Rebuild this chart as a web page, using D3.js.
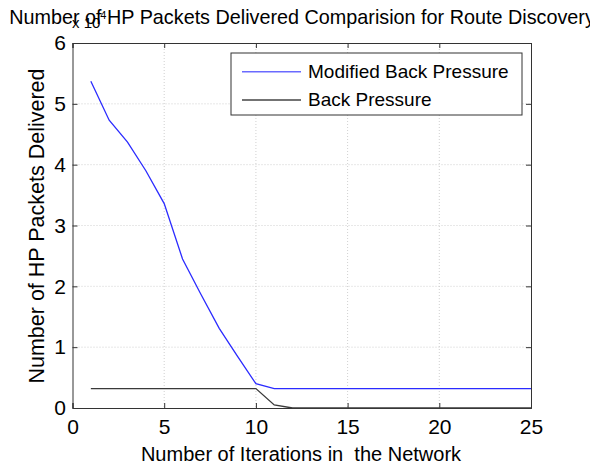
<!DOCTYPE html>
<html><head><meta charset="utf-8">
<script src="https://cdn.jsdelivr.net/npm/d3@7"></script>
<style>body{margin:0;background:#fff}svg{display:block}text{font-family:"Liberation Sans",Arial,sans-serif;fill:#000}</style>
</head><body><svg id="c" width="590" height="466"></svg>
<script>
const iterations = d3.range(1, 26);
const modifiedBP = [5.37,4.73,4.37,3.90,3.36,2.45,1.87,1.31,0.85,0.40,0.32,0.32,0.32,0.32,0.32,0.32,0.32,0.32,0.32,0.32,0.32,0.32,0.32,0.32,0.32];
const backPressure = [0.32,0.32,0.32,0.32,0.32,0.32,0.32,0.32,0.32,0.32,0.05,0,0,0,0,0,0,0,0,0,0,0,0,0,0];
const xTicks = [0,5,10,15,20,25];
const yTicks = [0,1,2,3,4,5,6];
const seriesNames = ["Modified Back Pressure","Back Pressure"];
const colors = ["#2b2bff","#3a3a3a"];

const svg = d3.select("#c");
const L=72.5, R=531, T=43, B=408;
const x = d3.scaleLinear().domain([0,25]).range([L,R]);
const y = d3.scaleLinear().domain([0,6]).range([B,T]);

// grid
const g = svg.append("g");
g.selectAll(".gx").data(xTicks.slice(1,-1)).enter().append("line")
 .attr("x1",d=>x(d)).attr("x2",d=>x(d)).attr("y1",T).attr("y2",B)
 .attr("stroke","#c4c4c4").attr("stroke-width",0.8).attr("stroke-dasharray","1,2");
g.selectAll(".gy").data(yTicks.slice(1,-1)).enter().append("line")
 .attr("y1",d=>y(d)).attr("y2",d=>y(d)).attr("x1",L).attr("x2",R)
 .attr("stroke","#c4c4c4").attr("stroke-width",0.8).attr("stroke-dasharray","1,2");

// axes
const fmt = d3.format("d");
const xa = svg.append("g").attr("transform",`translate(0,${B})`)
 .call(d3.axisBottom(x).tickValues(xTicks).tickFormat(fmt).tickSize(-5).tickPadding(11));
const xt = svg.append("g").attr("transform",`translate(0,${T})`)
 .call(d3.axisTop(x).tickValues(xTicks).tickSize(-5).tickFormat(""));
const ya = svg.append("g").attr("transform",`translate(${L},0)`)
 .call(d3.axisLeft(y).tickValues(yTicks).tickFormat(fmt).tickSize(-5).tickPadding(6.5));
const yr = svg.append("g").attr("transform",`translate(${R},0)`)
 .call(d3.axisRight(y).tickValues(yTicks).tickSize(-5).tickFormat(""));
[xa,xt,ya,yr].forEach(a=>{a.select(".domain").attr("stroke","#333");a.selectAll(".tick line").attr("stroke","#333");});
svg.selectAll(".tick text").style("font-size","21px").style("font-family",'"Liberation Sans",Arial,sans-serif').attr("fill","#000");

// lines
const line = d3.line().x((d,i)=>x(iterations[i])).y(d=>y(d));
[modifiedBP, backPressure].forEach((s,k)=>{
  svg.append("path").datum(s).attr("d",line).attr("fill","none")
   .attr("stroke",colors[k]).attr("stroke-width",1.3);
});

// legend
const lg = svg.append("g");
lg.append("rect").attr("x",231).attr("y",53).attr("width",291).attr("height",62)
 .attr("fill","#fff").attr("stroke","#333").attr("stroke-width",1);
const legY=[71.7,100], legBase=[77.7,105.7];
seriesNames.forEach((n,k)=>{
  lg.append("line").attr("x1",242).attr("x2",301).attr("y1",legY[k]).attr("y2",legY[k])
   .attr("stroke",k===0?"#6a6aff":"#444").attr("stroke-width",1.5);
  lg.append("text").attr("x",308).attr("y",legBase[k]).style("font-size","19px").text(n);
});

// labels
svg.append("text").attr("x",302).attr("y",24).attr("text-anchor","middle")
 .style("font-size","19.8px").text("Number of HP Packets Delivered Comparision for Route Discovery");
svg.append("text").attr("x",72).attr("y",28).style("font-size","15px")
 .html('x 10<tspan dy="-9" font-size="11px">4</tspan>');
svg.append("text").attr("x",301).attr("y",461).attr("text-anchor","middle")
 .style("font-size","20px").attr("xml:space","preserve")
 .text("Number of Iterations in  the Network");
svg.append("text").attr("transform","translate(44,226) rotate(-90)").attr("text-anchor","middle")
 .style("font-size","21.5px").text("Number of HP Packets Delivered");
</script></body></html>
